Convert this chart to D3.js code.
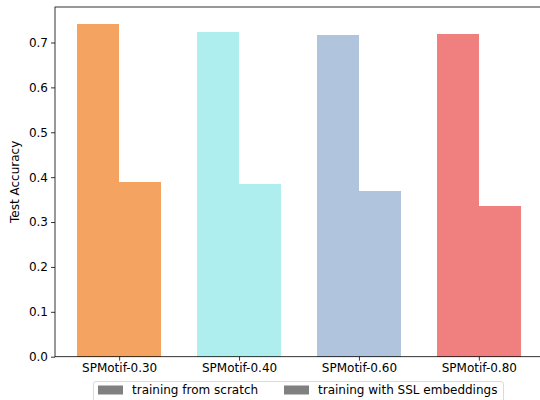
<!DOCTYPE html>
<html>
<head>
<meta charset="utf-8">
<script src="https://cdn.jsdelivr.net/npm/d3@7"></script>
<style>
  html, body { margin: 0; padding: 0; background: #fff; }
  svg { display: block; font-family: "DejaVu Sans", sans-serif; }
</style>
</head>
<body>
<svg id="chart" width="540" height="400"></svg>
<script>
// Categories and accuracies for each training setup
const categories = ["SPMotif-0.30", "SPMotif-0.40", "SPMotif-0.60", "SPMotif-0.80"];
const scratchAcc = [0.742, 0.724, 0.717, 0.719];
const sslAcc = [0.389, 0.385, 0.369, 0.336];
const groupColors = ["#F4A460", "#AFEEEE", "#B0C4DE", "#F08080"];
const seriesNames = ["training from scratch", "training with SSL embeddings"];
const yTicks = [0, 0.1, 0.2, 0.3, 0.4, 0.5, 0.6, 0.7];

const barWidth = 0.35;
const svg = d3.select("#chart");
const plotLeft = 55, plotRight = 543, plotTop = 7, plotBottom = 356.7;
const fontSize = 12;

// Horizontal scale in category units with a 5% margin like the default autoscale
const dataMin = -barWidth, dataMax = categories.length - 1 + barWidth;
const pad = (dataMax - dataMin) * 0.05;
const x = d3.scaleLinear().domain([dataMin - pad, dataMax + pad]).range([plotLeft, plotRight]);
const yMax = d3.max(scratchAcc.concat(sslAcc)) * 1.05;
const y = d3.scaleLinear().domain([0, yMax]).range([plotBottom, plotTop]);

// Bars: scratch to the left of the tick, SSL to the right
const bars = svg.append("g").attr("shape-rendering", "crispEdges");
categories.forEach((c, i) => {
  bars.append("rect")
    .attr("x", x(i - barWidth))
    .attr("y", y(scratchAcc[i]))
    .attr("width", x(i) - x(i - barWidth))
    .attr("height", y(0) - y(scratchAcc[i]))
    .attr("fill", groupColors[i]);
  bars.append("rect")
    .attr("x", x(i))
    .attr("y", y(sslAcc[i]))
    .attr("width", x(i + barWidth) - x(i))
    .attr("height", y(0) - y(sslAcc[i]))
    .attr("fill", groupColors[i]);
});

// Axes
const yAxis = d3.axisLeft(y).tickValues(yTicks).tickFormat(d3.format(".1f")).tickSize(4).tickPadding(3);
const xAxis = d3.axisBottom(x).tickValues(d3.range(categories.length)).tickFormat(i => categories[i]).tickSize(4).tickPadding(3);

const gy = svg.append("g").attr("transform", `translate(${plotLeft},0)`).call(yAxis);
const gx = svg.append("g").attr("transform", `translate(0,${plotBottom})`).call(xAxis);
[gx, gy].forEach(g => {
  g.select(".domain").remove();
  g.selectAll("line").attr("stroke", "#000").attr("stroke-width", 0.8);
  g.selectAll("text").attr("font-size", fontSize).attr("fill", "#000").attr("font-family", "DejaVu Sans, sans-serif");
});

// Frame
svg.append("rect")
  .attr("x", plotLeft).attr("y", plotTop)
  .attr("width", plotRight - plotLeft).attr("height", plotBottom - plotTop)
  .attr("fill", "none").attr("stroke", "#000").attr("stroke-width", 0.8);

// Y label
svg.append("text")
  .attr("transform", `translate(19,${(plotTop + plotBottom) / 2}) rotate(-90)`)
  .attr("text-anchor", "middle")
  .attr("font-size", fontSize)
  .text("Test Accuracy");

// Legend below the axes
const legend = svg.append("g");
legend.append("rect")
  .attr("x", 93.5).attr("y", 381.5)
  .attr("width", 410).attr("height", 26)
  .attr("rx", 2.5)
  .attr("fill", "#fff").attr("fill-opacity", 0.8)
  .attr("stroke", "#d0d0d0").attr("stroke-width", 0.8);
const legendX = [98, 284];
seriesNames.forEach((name, i) => {
  legend.append("rect")
    .attr("x", legendX[i]).attr("y", 385.5)
    .attr("width", 25).attr("height", 9)
    .attr("fill", "#808080");
  legend.append("text")
    .attr("x", legendX[i] + 34).attr("y", 390)
    .attr("dy", "0.35em")
    .attr("font-size", fontSize)
    .text(name);
});
</script>
</body>
</html>
